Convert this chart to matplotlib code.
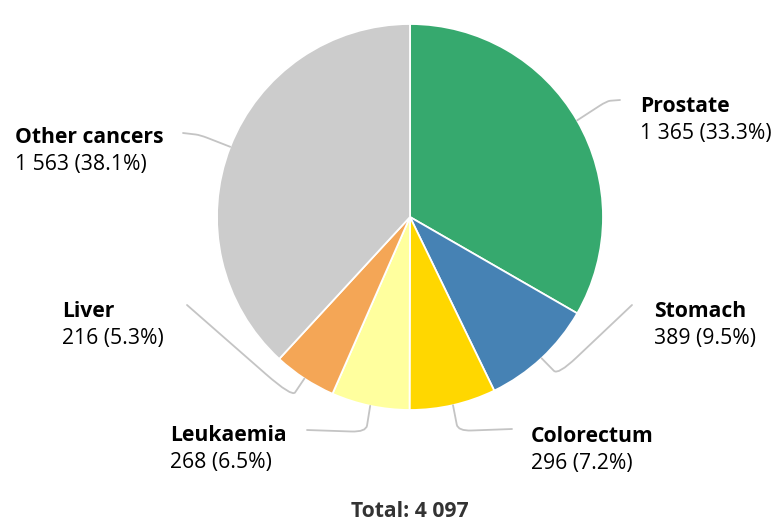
import matplotlib.pyplot as plt
from matplotlib import font_manager as fm
from matplotlib.path import Path
from matplotlib.patches import PathPatch
import numpy as np

def font_file(name):
    for f in fm.fontManager.ttflist:
        if f.fname.endswith(name):
            return fm.FontProperties(fname=f.fname, size=15.2)
    return fm.FontProperties(family='Open Sans', size=15.2)

reg = font_file('OpenSans-Regular.ttf')
bold = font_file('OpenSans-Bold.ttf')

# data
cancers = ['Prostate', 'Stomach', 'Colorectum', 'Leukaemia', 'Liver', 'Other cancers']
cases = [1365, 389, 296, 268, 216, 1563]
colors = ['#36a96e', '#4682b4', '#ffd700', '#ffff9e', '#f4a656', '#cccccc']

total = sum(cases)

W, H = 775, 521
fig = plt.figure(figsize=(W / 100, H / 100), dpi=100)
ax = fig.add_axes([0, 0, 1, 1])

cx, cy, r = 410, H - 217, 193
wedges, _ = ax.pie(cases, colors=colors, startangle=90, counterclock=False,
                   center=(cx, cy), radius=r, frame=True,
                   wedgeprops=dict(edgecolor='white', linewidth=1.3))
ax.set_xlim(0, W)
ax.set_ylim(0, H)
ax.set_aspect('equal')
ax.axis('off')

def fmt(n):
    return '{:,}'.format(n).replace(',', ' ')

# label layout in pixel coords (x, baseline of first line), connector elbow/end
layout = {
    'Prostate':      dict(tx=640, ty=112, pts=[(607, 101), (620, 100)]),
    'Stomach':       dict(tx=654, ty=317, pts=[(558, 375), (632, 305)]),
    'Colorectum':    dict(tx=531, ty=442, pts=[(458, 431), (512, 429)]),
    'Leukaemia':     dict(tx=170, ty=441, pts=[(366, 432), (307, 430)]),
    'Liver':         dict(tx=62,  ty=317, pts=[(292, 397), (187, 305)]),
    'Other cancers': dict(tx=15,  ty=143, pts=[(200, 135), (183, 133)]),
}

line_col = '#c4c4c4'
for w, name, n in zip(wedges, cancers, cases):
    mid = np.deg2rad((w.theta1 + w.theta2) / 2)
    sx, sy = cx + r * np.cos(mid), cy + r * np.sin(mid)
    L = layout[name]
    (ex, ey), (fx, fy) = L['pts']
    ey, fy = H - ey, H - fy
    # rounded corner at the elbow
    t = 0.25
    a = (ex + (sx - ex) * t, ey + (sy - ey) * t)
    b = (ex + (fx - ex) * t, ey + (fy - ey) * t)
    verts = [(sx, sy), a, (ex, ey), b, (fx, fy)]
    codes = [Path.MOVETO, Path.LINETO, Path.CURVE3, Path.CURVE3, Path.LINETO]
    ax.add_patch(PathPatch(Path(verts, codes), fill=False, edgecolor=line_col,
                           linewidth=1.3, capstyle='round'))
    ax.text(L['tx'], H - L['ty'], name, fontproperties=bold,
            color='#000000', ha='left', va='baseline')
    ax.text(L['tx'], H - L['ty'] - 27, '%s (%.1f%%)' % (fmt(n), 100 * n / total),
            fontproperties=reg, color='#000000', ha='left', va='baseline')

ax.text(cx, H - 517, 'Total: ' + fmt(total), fontproperties=bold,
        color='#333333', ha='center', va='baseline')

fig.savefig('out.png', dpi=100)
